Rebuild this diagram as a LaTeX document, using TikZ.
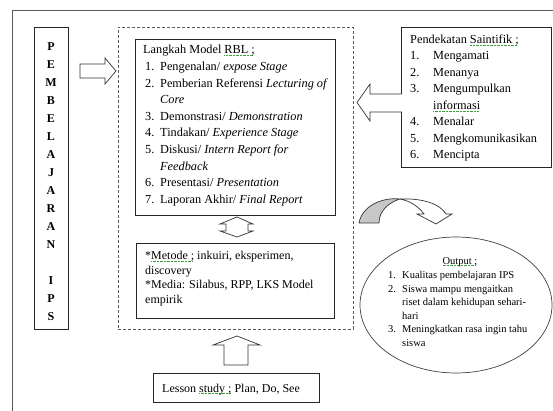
\documentclass[tikz,border=0pt]{standalone}
\usepackage{fontspec}
\setmainfont{Liberation Serif}
\usetikzlibrary{positioning,shapes.geometric}

\definecolor{spellgreen}{RGB}{60,160,60}
\newcommand{\spell}[1]{\setbox0\hbox{#1}\leavevmode\rlap{\raisebox{-0.35ex}{\textcolor{spellgreen}{\leaders\hbox{\rule{0.9pt}{0.5pt}\kern0.5pt}\hskip\wd0}}}\box0\relax}
\newcommand{\num}[1]{\makebox[15pt][l]{#1}}
\newcommand{\numw}[1]{\makebox[23pt][l]{#1}}
\newcommand{\nums}[1]{\makebox[14pt][l]{#1}}

\begin{document}
\begin{tikzpicture}[x=1pt,y=-1pt]
\tikzstyle{every node}+=[inner sep=0pt]
\tikzset{
  frm/.style={draw=black!85, line width=0.8pt, anchor=north west},
  dsh/.style={draw=black!65, line width=0.8pt, dash pattern=on 3pt off 2pt, anchor=north west},
  blk/.style={draw=black!80, line width=0.7pt, fill=white},
  txt/.style={anchor=base west, font=\fontsize{12.3}{15}\selectfont},
  mid/.style={anchor=base west, font=\fontsize{12}{14}\selectfont},
  sml/.style={anchor=base west, font=\fontsize{10.5}{13}\selectfont},
  ltr/.style={anchor=base, font=\bfseries\fontsize{12}{14}\selectfont}
}
\useasboundingbox (0,0) rectangle (553,411);

% frame
\draw [black!65, line width=1pt] (553,11) -- (12,11) -- (12,411);

% boxes
\node [frm, minimum width=34pt, minimum height=302pt] (pemb) at (34,27) {};
\node [dsh, minimum width=235pt, minimum height=302pt] (inti) at (118,27) {};
\node [frm, minimum width=200pt, minimum height=176pt] (langkah) at (135,39) {};
\node [frm, minimum width=198pt, minimum height=75pt] (metode) at (136,243) {};
\node [frm, minimum width=150pt, minimum height=140pt] (saintifik) at (401,27) {};
\node [frm, minimum width=166pt, minimum height=29pt] (lesson) at (153,373) {};
\node [draw=black!75, line width=0.7pt, ellipse, minimum width=192pt, minimum height=136pt] (output) at (456,305) {};

% PEMBELAJARAN IPS
\node [ltr] (p1) at (51,50.5) {P};
\node [ltr] (p2) at (51,68.5) {E};
\node [ltr] (p3) at (51,86.5) {M};
\node [ltr] (p4) at (51,104.5) {B};
\node [ltr] (p5) at (51,122.5) {E};
\node [ltr] (p6) at (51,140.5) {L};
\node [ltr] (p7) at (51,158.5) {A};
\node [ltr] (p8) at (51,176.5) {J};
\node [ltr] (p9) at (51,194.5) {A};
\node [ltr] (p10) at (51,212.5) {R};
\node [ltr] (p11) at (51,230.5) {A};
\node [ltr] (p12) at (51,248.5) {N};
\node [ltr] (p13) at (51,284.5) {I};
\node [ltr] (p14) at (51,302.5) {P};
\node [ltr] (p15) at (51,320.5) {S};

% Langkah Model RBL
\node [txt] (l0) at (143,54) {Langkah Model \spell{RBL ;}};
\node [txt] (l1) at (145,70.6) {\num{1.}Pengenalan/ \textit{expose Stage}};
\node [txt] (l2) at (145,87.2) {\num{2.}Pemberian Referensi \textit{Lecturing of}};
\node [txt] (l2b) at (160,103.8) {\textit{Core}};
\node [txt] (l3) at (145,120.4) {\num{3.}Demonstrasi/ \textit{Demonstration}};
\node [txt] (l4) at (145,137) {\num{4.}Tindakan/ \textit{Experience Stage}};
\node [txt] (l5) at (145,153.6) {\num{5.}Diskusi/ \textit{Intern Report for}};
\node [txt] (l5b) at (160,170.2) {\textit{Feedback}};
\node [txt] (l6) at (145,186.8) {\num{6.}Presentasi/ \textit{Presentation}};
\node [txt] (l7) at (145,203.4) {\num{7.}Laporan Akhir/ \textit{Final Report}};

% Pendekatan Saintifik
\node [txt] (s0) at (410,43.5) {Pendekatan \spell{Saintifik ;}};
\node [txt] (s1) at (410,60) {\numw{1.}Mengamati};
\node [txt] (s2) at (410,76.5) {\numw{2.}Menanya};
\node [txt] (s3) at (410,93) {\numw{3.}Mengumpulkan};
\node [txt] (s3b) at (433,109.5) {\spell{informasi}};
\node [txt] (s4) at (410,126) {\numw{4.}Menalar};
\node [txt] (s5) at (410,142.5) {\numw{5.}Mengkomunikasikan};
\node [txt] (s6) at (410,159) {\numw{6.}Mencipta};

% Metode dan Media
\node [mid] (m1) at (145,259.5) {*\spell{Metode ;} inkuiri, eksperimen,};
\node [mid] (m2) at (145,274) {discovery};
\node [mid] (m3) at (145,288.5) {*Media: Silabus, RPP, LKS Model};
\node [mid] (m4) at (145,303) {empirik};

% Lesson study
\node [mid] (ls) at (162,392) {Lesson \spell{study ;} Plan, Do, See};

% Output
\node [sml, anchor=base] (o0) at (460,264) {\spell{Output ;}};
\node [sml] (o1) at (388,278.5) {\nums{1.}Kualitas pembelajaran IPS};
\node [sml] (o2) at (388,292) {\nums{2.}Siswa mampu mengaitkan};
\node [sml] (o2b) at (402,305.5) {riset dalam kehidupan sehari-};
\node [sml] (o2c) at (402,319) {hari};
\node [sml] (o3) at (388,332.5) {\nums{3.}Meningkatkan rasa ingin tahu};
\node [sml] (o3b) at (402,346) {siswa};

% block arrows
\draw [blk] (80,64) -- (105,64) -- (105,58) -- (116,71) -- (105,84) -- (105,78) -- (80,78) -- cycle;
\draw [blk] (402,94) -- (370,94) -- (370,84) -- (357,102.5) -- (370,121) -- (370,112) -- (402,112);
\draw [blk] (226,224) -- (220,224) -- (237,217) -- (253,224) -- (248,224) -- (248,231) -- (253,231) -- (237,237) -- (220,231) -- (226,231) -- cycle;
\draw [blk] (224,365) -- (224,345) -- (213,345) -- (237,336) -- (260,345) -- (248,345) -- (248,365) -- cycle;

% curved arrow
\draw [blk, fill=black!22] (359,223) .. controls (362,206) and (382,197) .. (400,199)
  .. controls (390,202) and (379,210) .. (379,223) -- cycle;
\draw [blk] (400,199) .. controls (423,198) and (440,204) .. (446,214) -- (452,214) -- (436,224)
  -- (417,214) -- (424,214) .. controls (418,206) and (410,201) .. (400,199);
\end{tikzpicture}
\end{document}
